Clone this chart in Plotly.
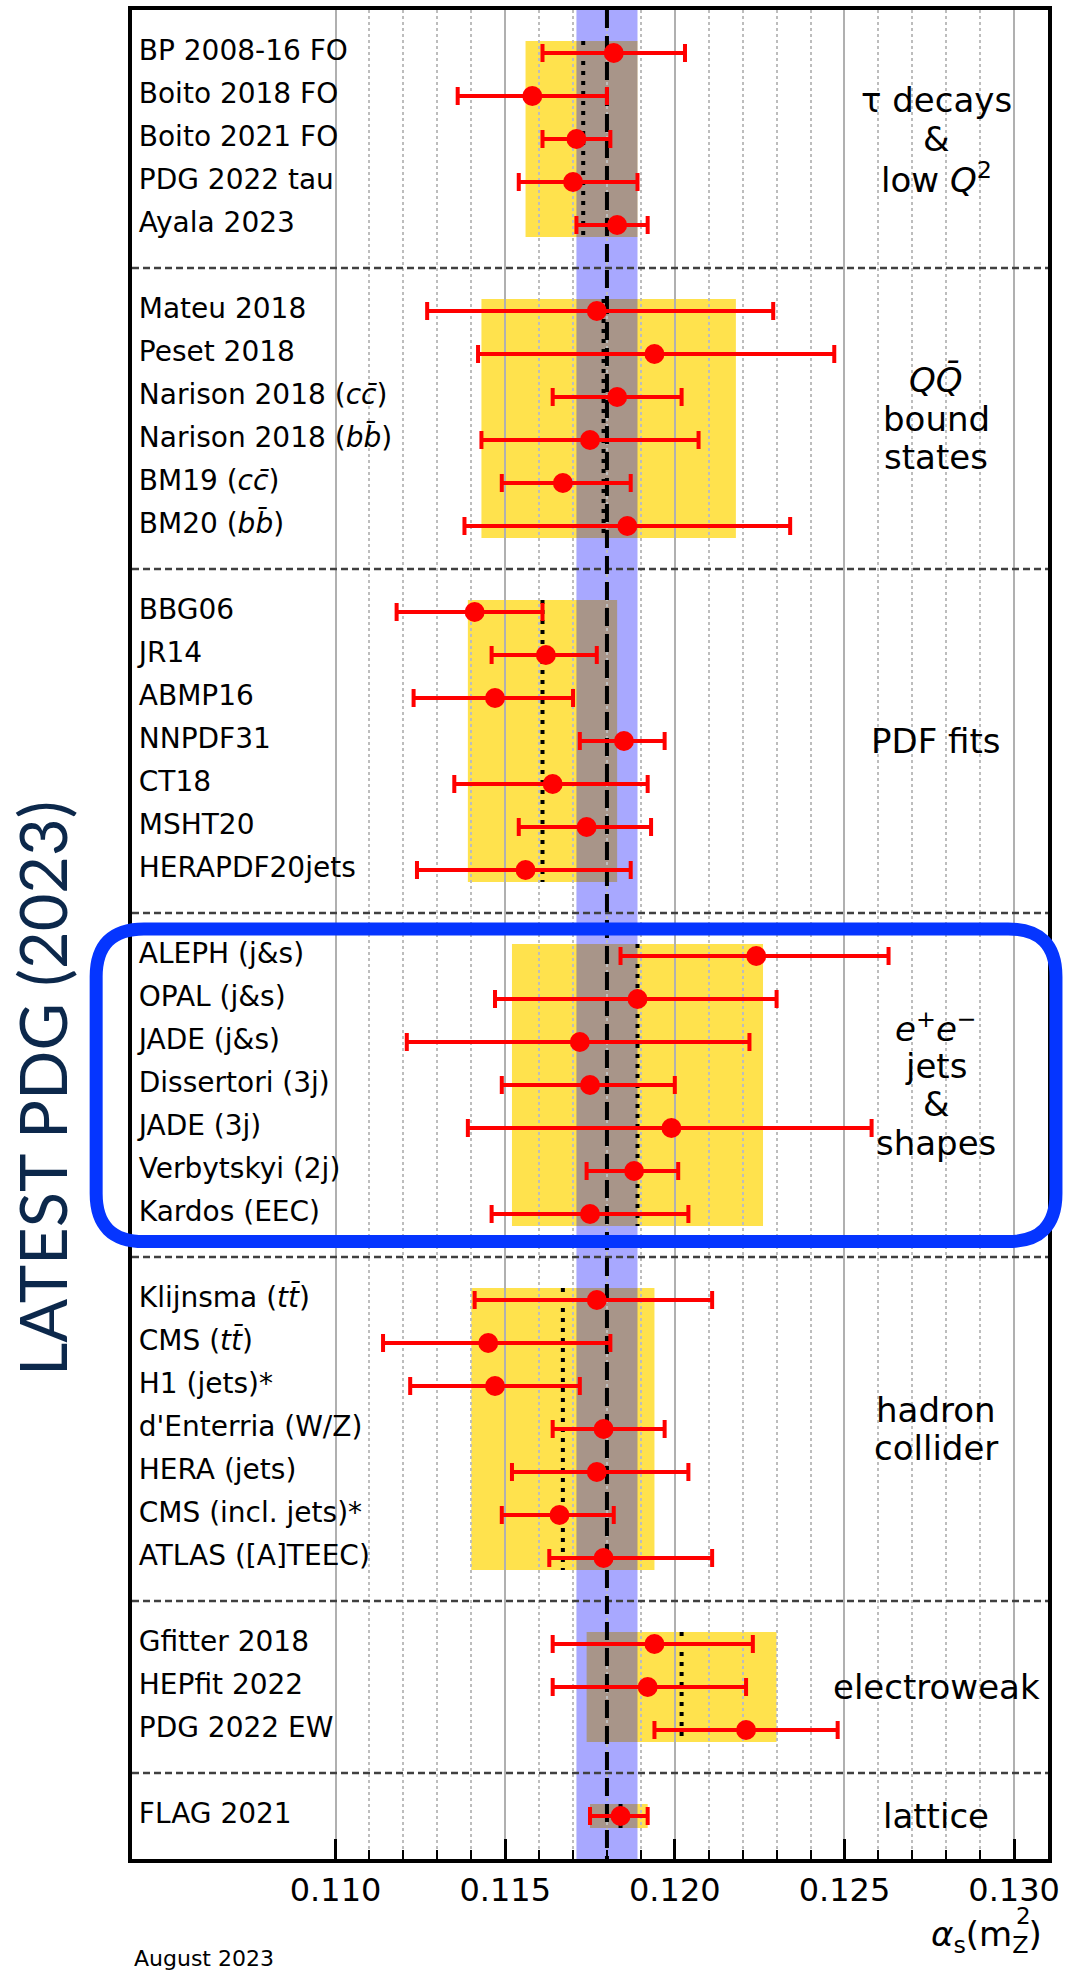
import plotly.graph_objects as go

# ---------------- data ----------------
group_sizes = [5, 6, 7, 7, 7, 3, 1]
group_titles = [
    ["τ decays", "&", "low <i>Q</i><sup>2</sup>"],
    ["<i>QQ\u0304</i>", "bound", "states"],
    ["PDF fits"],
    ["<i>e</i><sup>+</sup><i>e</i><sup>−</sup>", "jets", "&", "shapes"],
    ["hadron", "collider"],
    ["electroweak"],
    ["lattice"],
]

names = [
    "BP 2008-16 FO", "Boito 2018 FO", "Boito 2021 FO", "PDG 2022 tau", "Ayala 2023",
    "Mateu 2018", "Peset 2018", "Narison 2018 (<i>cc\u0304</i>)", "Narison 2018 (<i>bb\u0304</i>)",
    "BM19 (<i>cc\u0304</i>)", "BM20 (<i>bb\u0304</i>)",
    "BBG06", "JR14", "ABMP16", "NNPDF31", "CT18", "MSHT20", "HERAPDF20jets",
    "ALEPH (j&s)", "OPAL (j&s)", "JADE (j&s)", "Dissertori (3j)", "JADE (3j)",
    "Verbytskyi (2j)", "Kardos (EEC)",
    "Klijnsma (<i>tt\u0304</i>)", "CMS (<i>tt\u0304</i>)", "H1 (jets)*", "d'Enterria (W/Z)",
    "HERA (jets)", "CMS (incl. jets)*", "ATLAS ([A]TEEC)",
    "Gfitter 2018", "HEPfit 2022", "PDG 2022 EW",
    "FLAG 2021",
]

alpha_val = [
    0.1182, 0.1158, 0.1171, 0.1170, 0.1183,
    0.1177, 0.1194, 0.1183, 0.1175, 0.1167, 0.1186,
    0.1141, 0.1162, 0.1147, 0.1185, 0.1164, 0.1174, 0.1156,
    0.1224, 0.1189, 0.1172, 0.1175, 0.1199, 0.1188, 0.1175,
    0.1177, 0.1145, 0.1147, 0.1179, 0.1177, 0.1166, 0.1179,
    0.1194, 0.1192, 0.1221,
    0.1184,
]
alpha_lo = [
    0.1161, 0.1136, 0.1161, 0.1154, 0.1171,
    0.1127, 0.1142, 0.1164, 0.1143, 0.1149, 0.1138,
    0.1118, 0.1146, 0.1123, 0.1172, 0.1135, 0.1154, 0.1124,
    0.1184, 0.1147, 0.1121, 0.1149, 0.1139, 0.1174, 0.1146,
    0.1141, 0.1114, 0.1122, 0.1164, 0.1152, 0.1149, 0.1163,
    0.1164, 0.1164, 0.1194,
    0.1175,
]
alpha_hi = [
    0.1203, 0.1180, 0.1181, 0.1189, 0.1192,
    0.1229, 0.1247, 0.1202, 0.1207, 0.1187, 0.1234,
    0.1161, 0.1177, 0.1170, 0.1197, 0.1192, 0.1193, 0.1187,
    0.1263, 0.1230, 0.1222, 0.1200, 0.1258, 0.1201, 0.1204,
    0.1211, 0.1181, 0.1172, 0.1197, 0.1204, 0.1182, 0.1211,
    0.1223, 0.1221, 0.1248,
    0.1192,
]

group_lo = [0.1156, 0.1143, 0.1139, 0.1152, 0.1140, 0.1174, 0.1175]
group_hi = [0.1189, 0.1218, 0.1183, 0.1226, 0.1194, 0.1230, 0.1192]
group_avg = [0.1173, 0.1179, 0.1161, 0.1189, 0.1167, 0.1202, 0.1184]

world_avg = 0.1180
world_err = 0.0009

tick_values = [0.110, 0.115, 0.120, 0.125, 0.130]
tick_labels = ["0.110", "0.115", "0.120", "0.125", "0.130"]
minor_values = [round(0.110 + 0.001 * i, 3) for i in range(21) if i % 5 != 0]

# ---------------- layout helpers ----------------
W, H = 1066, 1974
ML, MR, MT, MB = 132, 14, 6, 115
PW, PH = W - ML - MR, H - MT - MB
X_RANGE = [0.104, 0.131]

def px2paper_x(px):
    return (px - ML) / PW

def px2paper_y(py):
    return (H - MB - py) / PH

# row positions
rows = []
group_first, group_last, dividers = [], [], []
cur = 0
for n in group_sizes:
    r = [cur + k + 1 for k in range(n)]
    rows.extend(r)
    group_first.append(r[0])
    group_last.append(r[-1])
    cur = cur + n + 1
    dividers.append(cur)
Y_MAX = cur
dividers = dividers[:-1]

FONT = "DejaVu Sans"
fig = go.Figure()

# error bars + points
fig.add_trace(go.Scatter(
    x=alpha_val, y=rows, mode="markers",
    marker=dict(color="#ff0000", size=20),
    error_x=dict(type="data", symmetric=False,
                 array=[h - v for h, v in zip(alpha_hi, alpha_val)],
                 arrayminus=[v - l for v, l in zip(alpha_val, alpha_lo)],
                 color="#ff0000", thickness=4, width=9),
    hoverinfo="skip", showlegend=False,
))

# left labels
fig.add_trace(go.Scatter(
    x=[0.10420] * len(names), y=rows, mode="text", text=names,
    textposition="middle right",
    textfont=dict(family=FONT, size=28, color="black"),
    hoverinfo="skip", showlegend=False, cliponaxis=False,
))

shapes = []
pad = 0.28
for lo, hi, f, l in zip(group_lo, group_hi, group_first, group_last):
    shapes.append(dict(type="rect", xref="x", yref="y", x0=lo, x1=hi,
                       y0=f - pad, y1=l + pad, fillcolor="#ffe24d",
                       line=dict(width=0), layer="below"))
shapes.append(dict(type="rect", xref="x", yref="y",
                   x0=world_avg - world_err, x1=world_avg + world_err, y0=0, y1=Y_MAX,
                   fillcolor="rgba(0,0,255,0.34)", line=dict(width=0), layer="below"))
for d in dividers:
    shapes.append(dict(type="line", xref="x", yref="y", x0=X_RANGE[0], x1=X_RANGE[1],
                       y0=d, y1=d,
                       line=dict(color="#404040", width=2.5, dash="7px,4px"),
                       layer="between"))
shapes.append(dict(type="line", xref="x", yref="y", x0=world_avg, x1=world_avg,
                   y0=0, y1=Y_MAX, line=dict(color="black", width=4, dash="18px,8px"),
                   layer="between"))
for a, f, l in zip(group_avg, group_first, group_last):
    shapes.append(dict(type="line", xref="x", yref="y", x0=a, x1=a,
                       y0=f - pad, y1=l + pad,
                       line=dict(color="black", width=4, dash="4px,6px"),
                       layer="between"))

# highlight around e+e- group
gi = 3
top_u = group_first[gi] - 0.63
bot_u = group_last[gi] + 0.64
def u2py(u):
    return MT + u * PH / Y_MAX
x0, x1 = px2paper_x(96), px2paper_x(1060)
y1, y0 = px2paper_y(u2py(top_u)), px2paper_y(u2py(bot_u))
rx, ry = 48 / PW, 48 / PH
path = (f"M {x0+rx},{y1} L {x1-rx},{y1} Q {x1},{y1} {x1},{y1-ry} L {x1},{y0+ry} "
        f"Q {x1},{y0} {x1-rx},{y0} L {x0+rx},{y0} Q {x0},{y0} {x0},{y0+ry} "
        f"L {x0},{y1-ry} Q {x0},{y1} {x0+rx},{y1} Z")
shapes.append(dict(type="path", xref="paper", yref="paper", path=path,
                   line=dict(color="#0535ff", width=13), layer="above"))

annotations = []
for lines, f, l in zip(group_titles, group_first, group_last):
    c = (f + l) / 2
    n = len(lines)
    for i, t in enumerate(lines):
        annotations.append(dict(x=0.1277, y=c + (i - (n - 1) / 2) * 0.9, xref="x", yref="y",
                                text=t, showarrow=False, xanchor="center", yanchor="middle",
                                font=dict(family=FONT, size=34, color="black")))

annotations.append(dict(x=px2paper_x(41), y=px2paper_y(1087), xref="paper", yref="paper",
                        text="LATEST PDG (2023)", textangle=-90, showarrow=False,
                        xanchor="center", yanchor="middle",
                        font=dict(family="Lato", size=65, color="#0c284b")))
annotations.append(dict(x=px2paper_x(1048), y=px2paper_y(1937), xref="paper", yref="paper",
                        text="<i>α</i><sub>s</sub>(m<sub>Z</sub>)", showarrow=False,
                        xanchor="right", yanchor="middle",
                        font=dict(family=FONT, size=34, color="black")))
annotations.append(dict(x=px2paper_x(1027), y=px2paper_y(1916), xref="paper", yref="paper",
                        text="2", showarrow=False, xanchor="center", yanchor="middle",
                        font=dict(family=FONT, size=23, color="black")))
annotations.append(dict(x=px2paper_x(132), y=px2paper_y(1959), xref="paper", yref="paper",
                        text="August 2023", showarrow=False, xanchor="left", yanchor="middle",
                        font=dict(family=FONT, size=22, color="black")))

fig.update_layout(
    width=W, height=H, margin=dict(l=ML, r=MR, t=MT, b=MB),
    paper_bgcolor="white", plot_bgcolor="white",
    shapes=shapes, annotations=annotations,
    xaxis=dict(range=X_RANGE, tickmode="array", tickvals=tick_values, ticktext=tick_labels,
               ticks="inside", ticklen=20, tickwidth=3, tickcolor="black",
               showgrid=True, gridcolor="#b0b0b0", gridwidth=1.5,
               showline=True, linecolor="black", linewidth=4, mirror=True,
               zeroline=False, tickfont=dict(family=FONT, size=32, color="black"),
               minor=dict(tickmode="array", tickvals=minor_values, ticks="inside",
                          ticklen=9, tickwidth=2, tickcolor="black", showgrid=True,
                          gridcolor="#bdbdbd", griddash="dot", gridwidth=1.5)),
    yaxis=dict(range=[Y_MAX, 0], showline=True, linecolor="black", linewidth=4,
               mirror=True, showticklabels=False, ticks="", showgrid=False,
               zeroline=False),
)

fig.write_html("out.html",
               config={"displayModeBar": False},
               post_script="document.body.style.margin='0px';"
                           "document.body.style.overflow='hidden';")
